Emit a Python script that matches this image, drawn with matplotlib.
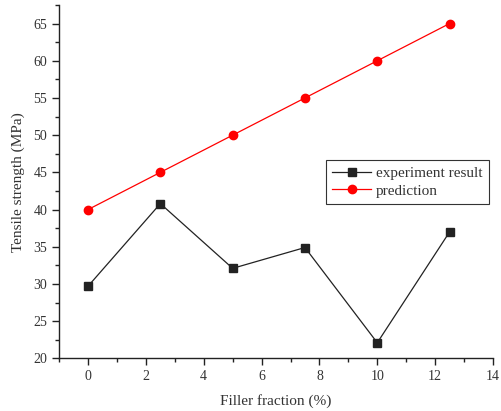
import numpy as np
import matplotlib
matplotlib.use("Agg")
import matplotlib.pyplot as plt
from matplotlib.ticker import MultipleLocator

plt.rcParams['font.family'] = ['Liberation Serif', 'DejaVu Serif']

# data
filler = [0, 2.5, 5, 7.5, 10, 12.5]
experiment = [29.7, 40.8, 32.1, 34.9, 22.1, 37.0]
prediction = [40, 45, 50, 55, 60, 65]

fig = plt.figure(figsize=(5.01, 4.11), dpi=100)
ax = fig.add_axes([0.118, 0.128, 0.866, 0.86])

ax.plot(filler, experiment, color='#222222', lw=0.9, marker='s', ms=5.5,
        label='experiment result')
ax.plot(filler, prediction, color='red', lw=0.9, marker='o', ms=6,
        label='prediction')

ax.set_xlim(-1, 14)
ax.set_ylim(20, 67.5)
ax.xaxis.set_major_locator(MultipleLocator(2))
ax.xaxis.set_minor_locator(MultipleLocator(1))
ax.yaxis.set_major_locator(MultipleLocator(5))
ax.yaxis.set_minor_locator(MultipleLocator(2.5))

for s in ['top', 'right']:
    ax.spines[s].set_visible(False)
for s in ['left', 'bottom']:
    ax.spines[s].set_linewidth(1.0)
    ax.spines[s].set_color('#222222')

ax.tick_params(which='major', direction='out', length=5, width=1,
               labelsize=10, colors='#222222', labelcolor='#333333')
ax.tick_params(which='minor', direction='out', length=3, width=1,
               colors='#222222')

ax.set_xlabel('Filler fraction (%)', fontsize=11, color='#333333', labelpad=8)
ax.set_ylabel('Tensile strength (MPa)', fontsize=11, color='#333333', labelpad=6)

leg = ax.legend(loc='upper right', bbox_to_anchor=(0.99, 0.56), fontsize=11,
                fancybox=False, framealpha=1, edgecolor='#333333',
                handlelength=2.6, borderpad=0.4, labelspacing=0.25,
                handletextpad=0.3, borderaxespad=0)
leg.get_frame().set_linewidth(0.8)
for t in leg.get_texts():
    t.set_color('#333333')

fig.savefig('out.png', dpi=100)
